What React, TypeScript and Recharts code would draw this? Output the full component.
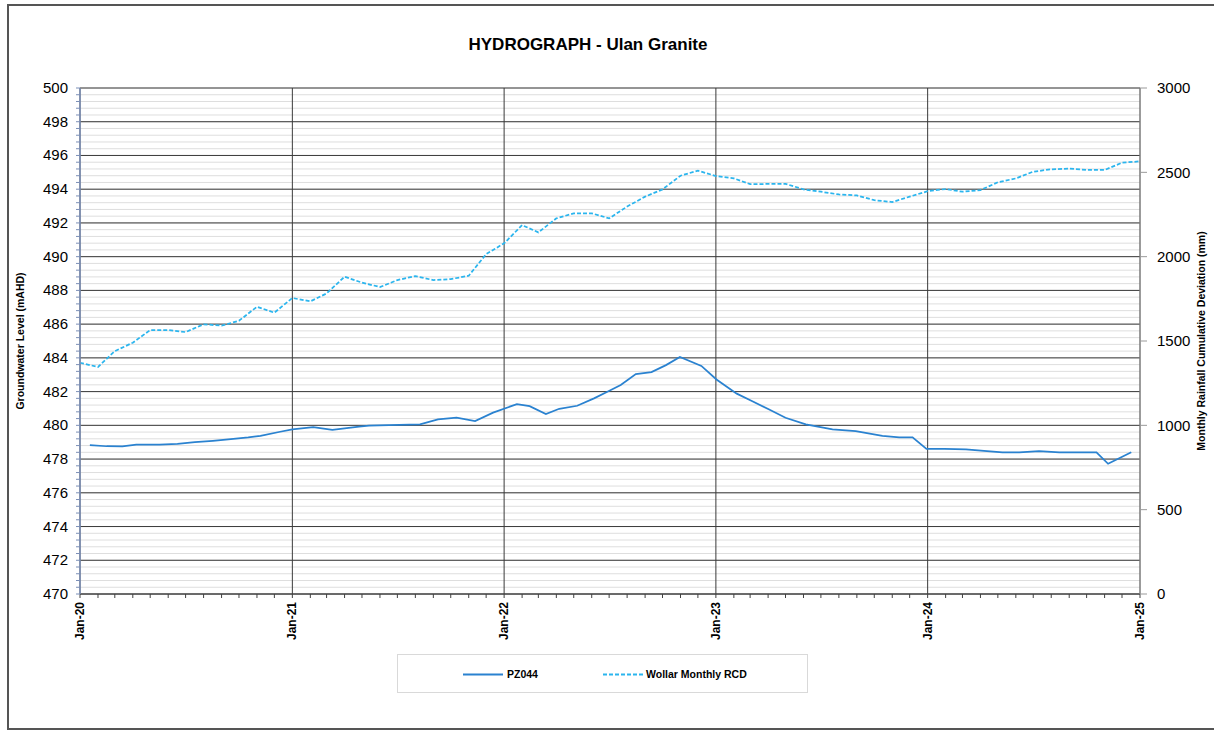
import { LineChart, Line, XAxis, YAxis, CartesianGrid } from 'recharts';

const FONT = '"Liberation Sans", Arial, Helvetica, sans-serif';

// PZ044 groundwater level (mAHD)
const pzDates = [
  '2020-01-18', '2020-02-16', '2020-03-14', '2020-04-07', '2020-05-17', '2020-06-17',
  '2020-07-17', '2020-08-17', '2020-09-17', '2020-10-17', '2020-11-07', '2020-12-11',
  '2021-01-01', '2021-02-06', '2021-03-11', '2021-04-26', '2021-05-13', '2021-07-04',
  '2021-08-09', '2021-09-09', '2021-10-11', '2021-11-12', '2021-12-13', '2022-01-23',
  '2022-02-14', '2022-03-14', '2022-04-06', '2022-05-07', '2022-06-05', '2022-06-28',
  '2022-07-21', '2022-08-16', '2022-09-12', '2022-10-07', '2022-10-31', '2022-12-07',
  '2023-01-02', '2023-02-06', '2023-03-04', '2023-04-02', '2023-05-01', '2023-06-05',
  '2023-07-21', '2023-08-30', '2023-10-15', '2023-11-13', '2023-12-06', '2023-12-30',
  '2024-01-30', '2024-03-07', '2024-04-07', '2024-05-09', '2024-06-07', '2024-07-11',
  '2024-08-15', '2024-09-15', '2024-10-18', '2024-11-07', '2024-12-17',
];
const pzLevels = [
  478.83, 478.76, 478.75, 478.85, 478.86, 478.9,
  479.0, 479.08, 479.18, 479.28, 479.38, 479.62,
  479.76, 479.9, 479.73, 479.92, 479.98, 480.03,
  480.06, 480.35, 480.45, 480.25, 480.75, 481.26,
  481.14, 480.67, 480.98, 481.16, 481.6, 481.99,
  482.39, 483.04, 483.16, 483.57, 484.05, 483.52,
  482.72, 481.88, 481.44, 480.95, 480.45, 480.06,
  479.76, 479.66, 479.37, 479.29, 479.29, 478.6,
  478.6, 478.58, 478.48, 478.4, 478.4, 478.47,
  478.4, 478.4, 478.4, 477.72, 478.4,
];

// Wollar monthly rainfall cumulative deviation (mm), month starts Jan-20 .. Jan-25
const rcdValues = [
  1371, 1346, 1440, 1490, 1565, 1565, 1553, 1599, 1591, 1620, 1703, 1668,
  1755, 1735, 1782, 1881, 1846, 1820, 1861, 1885, 1861, 1867, 1887, 2015,
  2079, 2187, 2144, 2227, 2257, 2257, 2227, 2297, 2356, 2399, 2480, 2510,
  2478, 2464, 2430, 2431, 2432, 2399, 2385, 2369, 2363, 2335, 2324, 2356,
  2388, 2401, 2385, 2395, 2441, 2464, 2504, 2518, 2522, 2514, 2514, 2557, 2565,
];

const rcdTicks = [0, 500, 1000, 1500, 2000, 2500, 3000];
const levelMajor = [470, 472, 474, 476, 478, 480, 482, 484, 486, 488, 490, 492, 494, 496, 498, 500];
const levelMinor = Array.from({ length: 76 }, (_, i) => Math.round((470 + i * 0.4) * 10) / 10);

const START = Date.UTC(2020, 0, 1);
const END = Date.UTC(2025, 0, 1);
const monthTicks = Array.from({ length: 61 }, (_, i) => Date.UTC(2020, i, 1));
const yearTicks = monthTicks.filter((t) => new Date(t).getUTCMonth() === 0);

const pzData = pzDates.map((d, i) => ({ t: Date.parse(d), level: pzLevels[i] }));
const rcdData = rcdValues.map((v, i) => ({ t: monthTicks[i], rcd: v }));

const isMajor = (v: number) => Math.abs(v - 2 * Math.round(v / 2)) < 1e-6;

const LevelTick = (props: any) => {
  const { x, y, payload } = props;
  if (!isMajor(payload.value)) return <g />;
  return (
    <text x={x} y={y} dy={5} textAnchor="end" fontSize={15} fill="#000" fontFamily={FONT}>
      {payload.value}
    </text>
  );
};

const MonthTick = (props: any) => {
  const { x, y, payload } = props;
  const d = new Date(payload.value);
  if (d.getUTCMonth() !== 0) return <g />;
  const label = `Jan-${String(d.getUTCFullYear()).slice(2)}`;
  return (
    <text
      x={x}
      y={y}
      dy={4}
      transform={`rotate(-90 ${x} ${y})`}
      textAnchor="end"
      fontSize={12}
      fontWeight="bold"
      fill="#000"
      fontFamily={FONT}
    >
      {label}
    </text>
  );
};

export default function App() {
  return (
    <div style={{ position: 'absolute', left: 0, top: 0, width: 1214, height: 731, overflow: 'hidden', background: '#fff', fontFamily: FONT }}>
      <div
        style={{
          position: 'absolute', left: 7, top: 4, width: 1207, height: 726, boxSizing: 'border-box',
          borderTop: '2px solid #555', borderLeft: '2px solid #555', borderBottom: '2px solid #555',
        }}
      />
      <div style={{ position: 'absolute', left: 388, top: 36, width: 400, textAlign: 'center', fontSize: 17, fontWeight: 'bold', lineHeight: '17px', color: '#000' }}>
        HYDROGRAPH - Ulan Granite
      </div>

      <div style={{ position: 'absolute', left: 0, top: 0 }}>
        <LineChart width={1214} height={731} margin={{ top: 88, right: 0, bottom: 87, left: 0 }}>
          <CartesianGrid yAxisId="left" vertical={false} horizontalValues={levelMinor} stroke="#dedede" strokeWidth={1} />
          <CartesianGrid yAxisId="left" horizontalValues={levelMajor} verticalValues={yearTicks} stroke="#3a3a3a" strokeWidth={1} />
          <XAxis
            dataKey="t"
            type="number"
            domain={[START, END]}
            ticks={monthTicks}
            interval={0}
            height={50}
            tickSize={4}
            tickMargin={4}
            axisLine={{ stroke: '#404040' }}
            tickLine={{ stroke: '#404040' }}
            tick={<MonthTick />}
          />
          <YAxis
            yAxisId="left"
            type="number"
            domain={[470, 500]}
            ticks={levelMinor}
            interval={0}
            width={80}
            tickSize={4}
            tickMargin={8}
            axisLine={{ stroke: '#7b8fb7', strokeWidth: 1.5 }}
            tickLine={{ stroke: '#7b8fb7' }}
            tick={<LevelTick />}
            label={{
              value: 'Groundwater Level (mAHD)', angle: -90, position: 'insideLeft', offset: 20,
              style: { textAnchor: 'middle', fontSize: 10.5, fontWeight: 'bold', fill: '#000', fontFamily: FONT },
            }}
          />
          <YAxis
            yAxisId="right"
            orientation="right"
            type="number"
            domain={[0, 3000]}
            ticks={rcdTicks}
            interval={0}
            width={74}
            tickSize={7}
            tickMargin={10}
            axisLine={{ stroke: '#999' }}
            tickLine={{ stroke: '#999' }}
            tick={{ fontSize: 15, fill: '#000', fontFamily: FONT }}
            label={{
              value: 'Monthly Rainfall Cumulative Deviation (mm)', angle: -90, position: 'insideRight', offset: 13,
              style: { textAnchor: 'middle', fontSize: 10.5, fontWeight: 'bold', fill: '#000', fontFamily: FONT },
            }}
          />
          <Line
            data={rcdData}
            dataKey="rcd"
            yAxisId="right"
            type="linear"
            stroke="#2bb5ee"
            strokeWidth={1.75}
            strokeDasharray="4 2"
            dot={false}
            activeDot={false}
            isAnimationActive={false}
          />
          <Line
            data={pzData}
            dataKey="level"
            yAxisId="left"
            type="linear"
            stroke="#2a82d0"
            strokeWidth={1.75}
            dot={false}
            activeDot={false}
            isAnimationActive={false}
          />
        </LineChart>
      </div>

      <div style={{ position: 'absolute', left: 397, top: 654, width: 411, height: 39, boxSizing: 'border-box', border: '1px solid #d9d9d9' }}>
        <svg style={{ position: 'absolute', left: 65, top: 18 }} width={40} height={3}>
          <line x1={0} y1={1.5} x2={40} y2={1.5} stroke="#2a82d0" strokeWidth={2} />
        </svg>
        <div style={{ position: 'absolute', left: 109, top: 13, fontSize: 10.5, fontWeight: 'bold', lineHeight: '12px', color: '#000' }}>PZ044</div>
        <svg style={{ position: 'absolute', left: 205, top: 18 }} width={40} height={3}>
          <line x1={0} y1={1.5} x2={40} y2={1.5} stroke="#2bb5ee" strokeWidth={2} strokeDasharray="4 2" />
        </svg>
        <div style={{ position: 'absolute', left: 248, top: 13, fontSize: 10.5, fontWeight: 'bold', lineHeight: '12px', color: '#000' }}>Wollar Monthly RCD</div>
      </div>
    </div>
  );
}
